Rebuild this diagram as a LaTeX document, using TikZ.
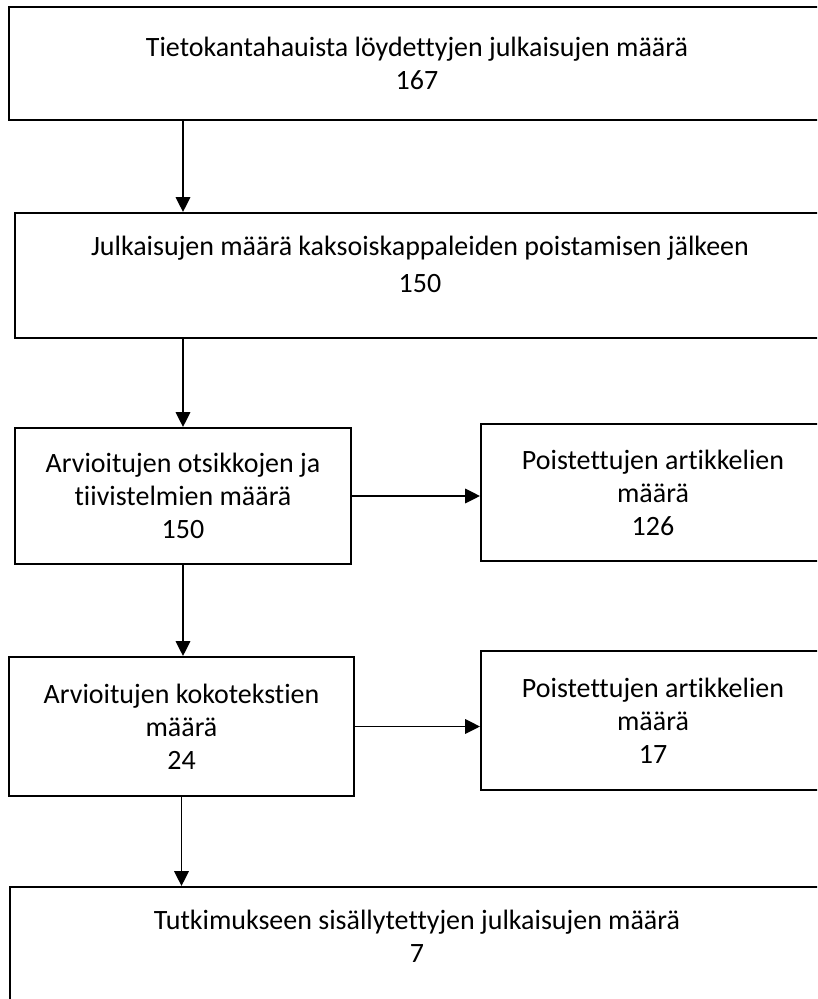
\documentclass[tikz,border=0pt]{standalone}
\usepackage{fontspec}
\setmainfont[Ligatures=NoCommon]{Carlito}
\usetikzlibrary{arrows.meta}
\begin{document}
\begin{tikzpicture}[
  box/.style={draw, line width=1.4pt, align=center, inner sep=0pt, font=\fontsize{19.9}{23.5}\selectfont},
  arr/.style={-{Triangle[length=0.37cm, width=0.36cm]}, line width=1.3pt}
]
\useasboundingbox (0,0) rectangle (20.425,-24.975);
\clip (0,0) rectangle (20.425,-24.975);
\node[box, minimum width=20.4cm, minimum height=2.825cm] (a) at (10.425,-1.5875) {Tietokantahauista löydettyjen julkaisujen määrä\\167};
\node[box, minimum width=20.25cm, minimum height=3.125cm] (b) at (10.5,-6.8875) {Julkaisujen määrä kaksoiskappaleiden poistamisen jälkeen\\[0.1cm]150\\[-0.275cm]};
\node[box, minimum width=8.4cm, minimum height=3.4cm] (c) at (4.575,-12.4) {Arvioitujen otsikkojen ja\\tiivistelmien määrä\\150};
\node[box, minimum width=8.6cm, minimum height=3.425cm] (d) at (16.325,-12.3125) {Poistettujen artikkelien\\määrä\\126};
\node[box, minimum width=8.625cm, minimum height=3.475cm] (e) at (4.5375,-18.1625) {Arvioitujen kokotekstien\\määrä\\24};
\node[box, minimum width=8.6cm, minimum height=3.475cm] (f) at (16.325,-18.0125) {Poistettujen artikkelien\\määrä\\17};
\node[box, minimum width=20.4cm, minimum height=4cm, anchor=north west] (g) at (0.225,-22.15) {};
\node[box, draw=none] (gtext) at (10.425,-23.4125) {Tutkimukseen sisällytettyjen julkaisujen määrä\\7};
\draw[arr] (c.north |- a.south) -- (c.north |- b.north);
\draw[arr] (c.north |- b.south) -- (c.north);
\draw[arr] (c.east) -- (c.east -| d.west);
\draw[arr] (c.south) -- (c.south |- e.north);
\draw[arr] (e.east) -- (e.east -| f.west);
\draw[arr] (e.south) -- (e.south |- g.north);
\end{tikzpicture}
\end{document}
